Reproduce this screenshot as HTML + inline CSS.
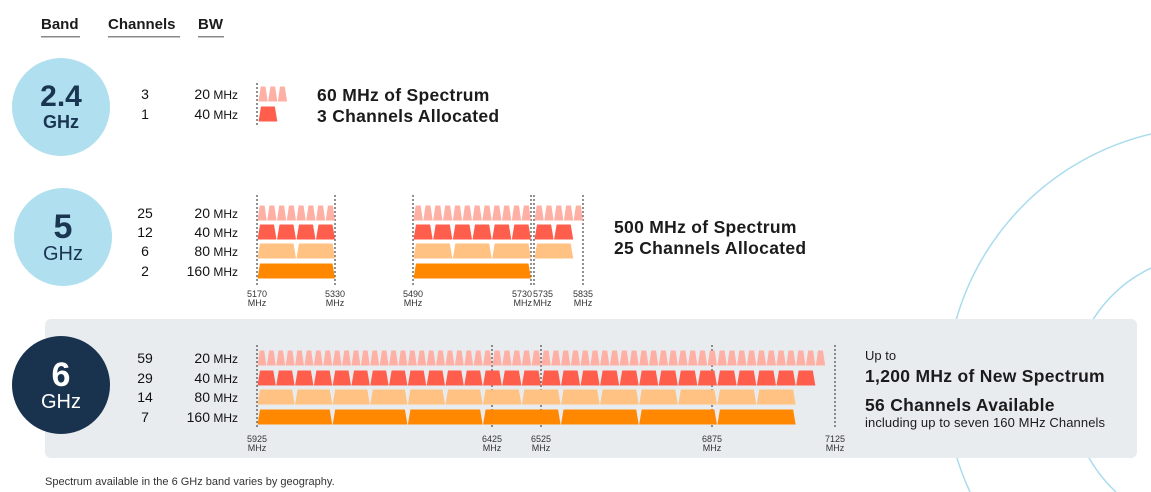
<!DOCTYPE html>
<html><head><meta charset="utf-8"><style>
html,body{margin:0;padding:0;background:#fff;width:1151px;height:492px;overflow:hidden;}
svg{display:block;font-family:"Liberation Sans",sans-serif;overflow:hidden;}
</style></head><body>
<svg id="chart" width="1151" height="492" viewBox="0 0 1151 492">
<defs><clipPath id="frame"><rect x="0" y="0" width="1151" height="492"/></clipPath></defs>
<g clip-path="url(#frame)">
<path d="M1151,134 A266,266 0 0 0 946,400 A266,266 0 0 0 970,492" fill="none" stroke="#a9dced" stroke-width="1.5"/>
<path d="M1151,268 A141,141 0 0 0 1071,395 A141,141 0 0 0 1116,492" fill="none" stroke="#a9dced" stroke-width="1.5"/>
</g>
<rect x="45" y="319" width="1092" height="139" rx="6" fill="#e9ecef"/>
<g font-weight="bold" font-size="15" fill="#1b1b1b">
<text x="41" y="29">Band</text>
<text x="108" y="29">Channels</text>
<text x="198" y="29">BW</text>
<rect x="41" y="36" width="39" height="1.5" fill="#888"/><rect x="108" y="36" width="72" height="1.5" fill="#888"/><rect x="198" y="36" width="26" height="1.5" fill="#888"/>
</g>
<g>
<circle cx="61" cy="107" r="49" fill="#b0e0ef"/>
<text x="61" y="106" text-anchor="middle" font-size="30" font-weight="bold" fill="#1a3552">2.4</text>
<text x="61" y="128" text-anchor="middle" font-size="18" font-weight="bold" fill="#1a3552">GHz</text>
<circle cx="63" cy="237" r="49" fill="#b0e0ef"/>
<text x="63" y="238" text-anchor="middle" font-size="34" font-weight="bold" fill="#1a3552">5</text>
<text x="63" y="260" text-anchor="middle" font-size="20" fill="#1a3552">GHz</text>
<circle cx="61" cy="385" r="49" fill="#19334f"/>
<text x="61" y="386" text-anchor="middle" font-size="34" font-weight="bold" fill="#fff">6</text>
<text x="61" y="408" text-anchor="middle" font-size="20" fill="#fff">GHz</text>
</g>
<g id="marks"></g>
<g font-size="17.5" font-weight="bold" fill="#1b1b1b" letter-spacing="0.3">
<text x="317" y="101">60 MHz of Spectrum</text>
<text x="317" y="122">3 Channels Allocated</text>
<text x="614" y="233">500 MHz of Spectrum</text>
<text x="614" y="254">25 Channels Allocated</text>
<text x="865" y="360" font-size="13" font-weight="normal" letter-spacing="0">Up to</text>
<text x="865" y="382">1,200 MHz of New Spectrum</text>
<text x="865" y="411">56 Channels Available</text>
<text x="865" y="427" font-size="13" font-weight="normal" letter-spacing="0.1">including up to seven 160 MHz Channels</text>
</g>
<text x="45" y="485" font-size="11" fill="#333">Spectrum available in the 6 GHz band varies by geography.</text>
</svg>
<script>
const bwLabels = [20, 40, 80, 160];
const colors = ["#ffb0a5", "#ff5e4c", "#ffc283", "#ff8800"];
// band 2.4
const b24Counts = [3, 1];
const b24Segs = [[[2401, 20, 3]], [[2401, 40, 1]]];
const b24Ticks = [];
// band 5
const b5Counts = [25, 12, 6, 2];
const b5Segs = [
  [[5170,20,8],[5490,20,12],[5735,20,5]],
  [[5170,40,4],[5490,40,6],[5735,40,2]],
  [[5170,80,2],[5490,80,3],[5735,80,1]],
  [[5170,160,1],[5490,240,1]]
];
const b5Ticks = [5170, 5330, 5490, 5730, 5735, 5835];
const b5TickAnchor = ["middle","middle","middle","end","start","middle"];
// band 6
const b6Counts = [59, 29, 14, 7];
const b6Segs = [[[5925,20,59]], [[5925,40,29]], [[5925,80,14]], [[5925,160,7]]];
const b6Ticks = [5925, 6425, 6525, 6875, 7125];

const NS = "http://www.w3.org/2000/svg";
const root = document.getElementById("marks");
function pw(pts){return f=>{for(let i=0;i<pts.length-1;i++){const a=pts[i],b=pts[i+1];if(f<=b[0]||i==pts.length-2)return a[1]+(f-a[0])*(b[1]-a[1])/(b[0]-a[0]);}};}
function el(tag,attrs,parent){const e=document.createElementNS(NS,tag);for(const k in attrs)e.setAttribute(k,attrs[k]);(parent||root).appendChild(e);return e;}

function band(name,counts,segs,ticks,anchors,x,rowY,rowH,lineTop,lineBot,tickY){
  const g=el("g",{});
  
  
  ticks.forEach((t,i)=>{
    const X=x(t);
    const a=anchors?anchors[i]:"middle";
    const tx0=a=="end"?X+1:a=="start"?X-1:X;
    const l=el("line",{x1:X,x2:X,y1:lineTop,y2:lineBot,stroke:"#555","stroke-width":1.3,"stroke-dasharray":"2,2"},g);
    
    
    const tx=el("text",{x:tx0,y:tickY,"text-anchor":a,"font-size":"9",fill:"#333"},g);
    
    
    tx.textContent=t;
    const t2=el("text",{x:tx0,y:tickY+9,"text-anchor":a,"font-size":"9",fill:"#333"},g);
    t2.textContent="MHz";
  });
  counts.forEach((c,r)=>{
    const y=rowY[r];
    const n=el("text",{x:145,y:y+5,"text-anchor":"middle","font-size":"14",fill:"#111"},g);
    
    
    n.textContent=c;
    const b=el("text",{x:238,y:y+5,"text-anchor":"end","font-size":"14",fill:"#111"},g);
    
    
    b.innerHTML=bwLabels[r]+'<tspan font-size="12"> MHz</tspan>';
    segs[r].forEach(s=>{
      for(let i=0;i<s[2];i++){
        const x0=x(s[0]+i*s[1])+0.5, x1=x(s[0]+(i+1)*s[1]);
        const ins=r==0?2.2:2.5;
        const y0=y-rowH/2,y1=y+rowH/2;
        const p=el("polygon",{points:`${x0},${y1} ${x0+ins},${y0} ${x1-ins},${y0} ${x1},${y1}`,fill:colors[r]},g);
        
        
      }
    });
  });
}
band("2-4ghz",b24Counts,b24Segs,b24Ticks,null,pw([[2401,258],[2461,287]]),[94,114],15,83,125,0);
const l24=el("line",{x1:257,x2:257,y1:83,y2:125,stroke:"#555","stroke-width":1.3,"stroke-dasharray":"2,2"});


band("5ghz",b5Counts,b5Segs,b5Ticks,b5TickAnchor,pw([[5170,257],[5330,335],[5490,413],[5730,531],[5735,534],[5835,583]]),[213,232,251,271],15,195,287,297);
band("6ghz",b6Counts,b6Segs,b6Ticks,null,pw([[5925,257],[6425,492],[6525,541],[6875,712],[7125,835]]),[358,378,397,417],15,345,428,442);
</script>
</body></html>
